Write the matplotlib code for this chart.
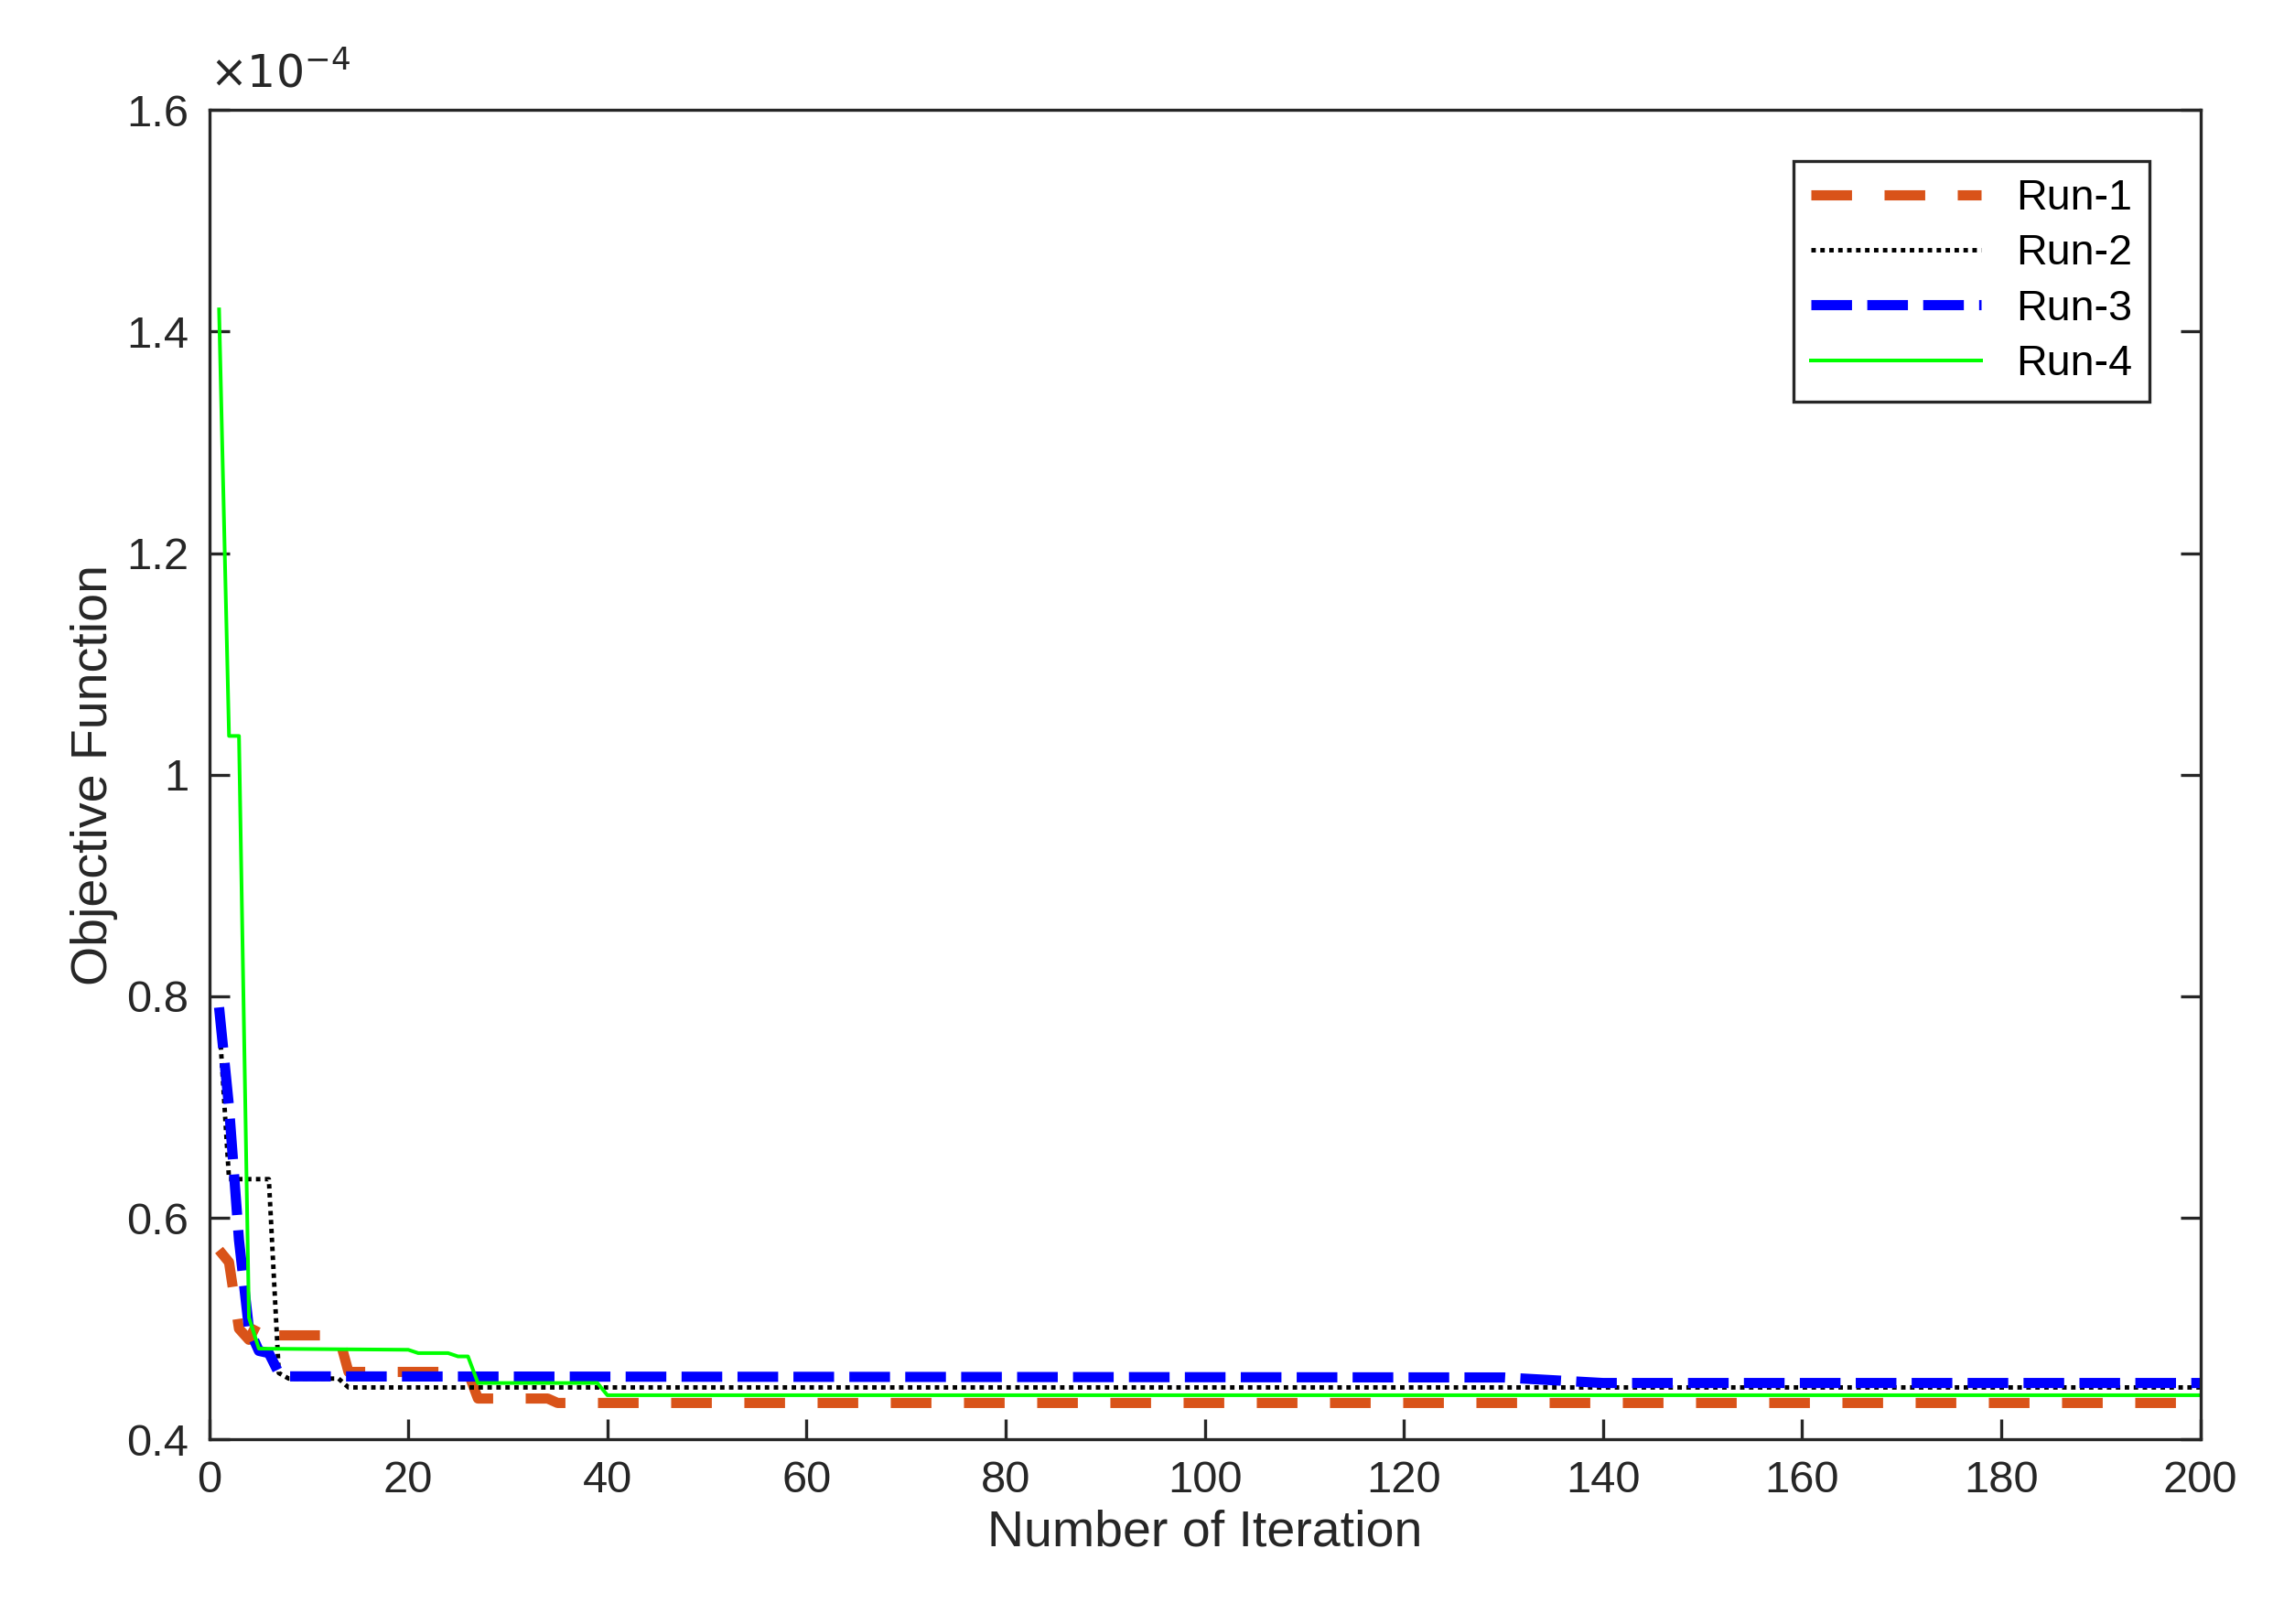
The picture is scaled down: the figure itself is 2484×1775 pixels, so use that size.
import matplotlib
matplotlib.use("Agg")
import matplotlib.pyplot as plt

run1_x = [1, 2, 3, 4, 5, 6, 7, 13, 14, 26, 27, 34, 35, 200]
run1_y = [0.571, 0.56, 0.50, 0.49, 0.508, 0.498, 0.494, 0.494, 0.461, 0.461, 0.437, 0.437, 0.433, 0.433]
run2_x = [1, 2, 6, 7, 8, 13, 14, 200]
run2_y = [0.78, 0.635, 0.635, 0.46, 0.455, 0.455, 0.447, 0.447]
run3_x = [1, 2, 3, 4, 5, 6, 7, 8, 130, 140, 200]
run3_y = [0.79, 0.70, 0.58, 0.50, 0.48, 0.478, 0.46, 0.457, 0.456, 0.451, 0.451]
run4_x = [1, 2, 3, 4, 5, 20, 21, 24, 25, 26, 27, 39, 40, 200]
run4_y = [1.42, 1.035, 1.035, 0.51, 0.482, 0.481, 0.478, 0.478, 0.475, 0.475, 0.451, 0.451, 0.44, 0.44]

plt.rcParams['font.family'] = ['Liberation Sans', 'DejaVu Sans']
fig = plt.figure(figsize=(15.525, 11.09375), dpi=160)
ax = fig.add_axes([0.092, 0.1136, 0.876, 0.8187])

ax.plot(run1_x, run1_y, color='#D95319', lw=5, dashes=(4, 3.2), label='Run-1')
ax.plot(run2_x, run2_y, color='black', lw=2.2, linestyle=(0, (1, 1)), label='Run-2')
ax.plot(run3_x, run3_y, color='#0000FF', lw=5, dashes=(4, 1.5), label='Run-3')
ax.plot(run4_x, run4_y, color='#00FF00', lw=1.8, label='Run-4')

ax.set_xlim(0, 200)
ax.set_ylim(0.4, 1.6)
ax.set_xticks(range(0, 201, 20))
ax.set_yticks([0.4, 0.6, 0.8, 1.0, 1.2, 1.4, 1.6])
ax.set_yticklabels(['0.4', '0.6', '0.8', '1', '1.2', '1.4', '1.6'])
ax.tick_params(direction='in', length=10, width=1.5, labelsize=22, colors='#262626',
               right=True, top=False, pad=10)
for s in ax.spines.values():
    s.set_linewidth(1.5)
    s.set_color('#262626')
ax.set_xlabel('Number of Iteration', fontsize=25, color='#262626')
ax.set_ylabel('Objective Function', fontsize=25, color='#262626')
ax.text(0.0, 1.01, r'$\times10^{-4}$', transform=ax.transAxes, fontsize=22,
        color='#262626', va='bottom', ha='left')
leg = ax.legend(loc='upper right', fontsize=21, fancybox=False, framealpha=1,
                edgecolor='#262626', handlelength=4, borderaxespad=1.2,
                labelspacing=0.35)
leg.get_frame().set_linewidth(1.5)
fig.savefig('out.png', dpi=160, facecolor='white')
